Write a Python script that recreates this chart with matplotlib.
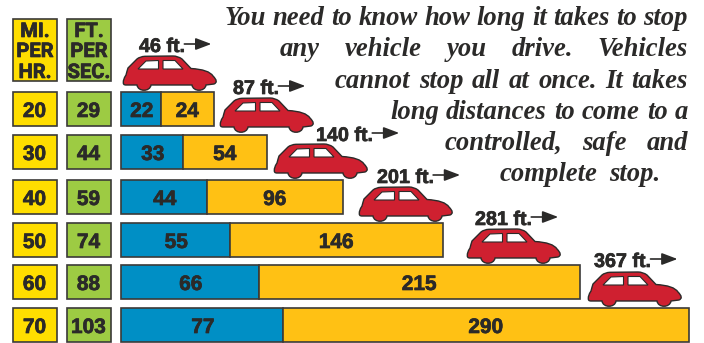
import matplotlib
matplotlib.use('Agg')
import matplotlib.pyplot as plt
import matplotlib.patheffects as pe
from matplotlib.path import Path
from matplotlib.patches import PathPatch, Rectangle

# dados da tabela
mph = [20, 30, 40, 50, 60, 70]
ft_sec = [29, 44, 59, 74, 88, 103]
reaction = [22, 33, 44, 55, 66, 77]
braking = [24, 54, 96, 146, 215, 290]
total = [46, 87, 140, 201, 281, 367]

# comprimento desenhado das barras (a figura nao esta em escala)
reaction_drawn = [40, 62, 86, 109, 138, 162]
braking_drawn = [53, 84, 136, 213, 321, 406]

paragraph = [
    'You need to know how long it takes to stop',
    'any vehicle you drive. Vehicles',
    'cannot stop all at once. It takes',
    'long distances to come to a',
    'controlled, safe and',
    'complete stop.',
]

# layout em pixels
row_y = [109, 152, 197, 240, 282, 325]
car_x = [123, 220, 274, 359, 467, 588]
car_y = [56, 98, 144, 187, 229, 272]
label_x = [139, 233, 316, 377, 475, 594]
label_y = [52, 94, 141, 183, 225, 267]
text_left = [225, 280, 335, 390, 445, 500]
text_right = [688, 688, 688, 688, 688, 660]
text_base = [25, 56, 88, 119, 150, 181]

YELLOW = '#FFDE00'
GREEN = '#9DCB43'
BLUE = '#008FC5'
ORANGE = '#FFC114'
RED = '#CF2030'
DARK = '#2B2A29'
GROSSO = [pe.withStroke(linewidth=0.5, foreground=DARK)]

fig = plt.figure(figsize=(7.04, 3.43), dpi=100)
ax = fig.add_axes([0, 0, 1, 1])
ax.set_xlim(0, 704)
ax.set_ylim(343, 0)
ax.axis('off')


def caixa(x, y, w, h, cor):
    ax.add_patch(Rectangle((x, y), w, h, facecolor=cor, edgecolor='#3b3a38', linewidth=1.2))


def numero(x, y, valor):
    ax.text(x, y, str(valor), family='Liberation Sans', weight='bold', fontsize=15,
            color=DARK, ha='center', va='center_baseline', path_effects=GROSSO)


# cabecalho
caixa(12.5, 18.5, 44.5, 62.5, YELLOW)
caixa(66.5, 18.5, 44.5, 62.5, GREEN)
for y, a, b in zip([37, 57, 78], ['MI.', 'PER', 'HR.'], ['FT.', 'PER', 'SEC.']):
    ax.text(35, y, a, family='Roboto', weight='bold', fontsize=14.5, color=DARK, ha='center', va='baseline', path_effects=GROSSO)
    ax.text(89, y, b, family='Roboto', weight='bold', fontsize=14.5, color=DARK, ha='center', va='baseline', path_effects=GROSSO)

# linhas da tabela
for i in range(6):
    caixa(12.5, row_y[i] - 17, 44.5, 34, YELLOW)
    caixa(66.5, row_y[i] - 17, 44.5, 34, GREEN)
    numero(34.5, row_y[i] + 0.5, mph[i])
    numero(88.5, row_y[i] + 0.5, ft_sec[i])

# barras
ax.barh(row_y, reaction_drawn, left=120.8, height=34, color=BLUE, edgecolor='#3b3a38', linewidth=1.2)
ax.barh(row_y, braking_drawn, left=[120.8 + r for r in reaction_drawn], height=34,
        color=ORANGE, edgecolor='#3b3a38', linewidth=1.2)
for i in range(6):
    numero(120.8 + reaction_drawn[i] / 2 + 1, row_y[i] + 0.5, reaction[i])
    numero(120.8 + reaction_drawn[i] + braking_drawn[i] / 2, row_y[i] + 0.5, braking[i])

# contorno do carro, origem no canto superior esquerdo
M, L, C3, C4 = Path.MOVETO, Path.LINETO, Path.CURVE3, Path.CURVE4
corpo = [
    (M, (0.5, 28)), (C3, (-0.5, 24)), (C3, (3, 19)), (C3, (4, 15)), (C3, (5, 12)),
    (L, (14, 3)), (C3, (17, 0.5)), (C3, (22, 0.3)), (L, (50, 0)), (C3, (55, 0)), (C3, (59, 3)),
    (L, (68, 12.5)), (C3, (86, 13.5)), (C3, (90, 20)), (C3, (96, 26)), (C3, (91, 28)),
    (L, (83, 29)),
    (C4, (82, 36)), (C4, (70, 36)), (C4, (69, 29)),
    (L, (28, 29)),
    (C4, (27, 36)), (C4, (15, 36)), (C4, (14, 29)),
    (L, (3, 29)), (C3, (1, 29)), (C3, (0.5, 28)),
]
janela1 = [(15, 13), (23, 5), (35.5, 4.5), (35.5, 13), (15, 13)]
janela2 = [(40, 13), (40, 4.5), (52, 4.5), (60, 13), (40, 13)]
codes = [c for c, p in corpo]
pts = [p for c, p in corpo]
for x0, y0 in zip(car_x, car_y):
    ax.add_patch(PathPatch(Path([(x0 + p[0], y0 + p[1]) for p in pts], codes),
                           facecolor=RED, edgecolor=DARK, linewidth=1.0, zorder=4))
    for jan in (janela1, janela2):
        ax.fill([x0 + p[0] for p in jan], [y0 + p[1] for p in jan], facecolor='white',
                edgecolor=DARK, linewidth=0.8, zorder=5)

# distancia total com seta
fig.canvas.draw()
rend = fig.canvas.get_renderer()
for i in range(6):
    t = ax.text(label_x[i], label_y[i], f'{total[i]} ft.', family='Liberation Sans', weight='bold',
                fontsize=14.2, color=DARK, ha='left', va='baseline', zorder=6, path_effects=GROSSO)
    fim = ax.transData.inverted().transform(t.get_window_extent(rend).get_points())[1][0]
    ax.annotate('', xy=(fim + 26, label_y[i] - 8), xytext=(fim - 1, label_y[i] - 8), zorder=6,
                arrowprops=dict(arrowstyle='-|>,head_length=0.95,head_width=0.36', color=DARK,
                                lw=1.2, shrinkA=0, shrinkB=0))

# paragrafo justificado palavra por palavra
for linha, x0, x1, y in zip(paragraph, text_left, text_right, text_base):
    palavras = linha.split()
    itens = [ax.text(0, y, p, family='Liberation Serif', style='italic', weight='bold',
                     fontsize=19.2, color=DARK, ha='left', va='baseline') for p in palavras]
    larguras = [t.get_window_extent(rend).width for t in itens]
    folga = (x1 - x0 - sum(larguras)) / (len(palavras) - 1)
    x = x0
    for t, w in zip(itens, larguras):
        t.set_x(x)
        x += w + folga

fig.savefig('out.png', dpi=100)
